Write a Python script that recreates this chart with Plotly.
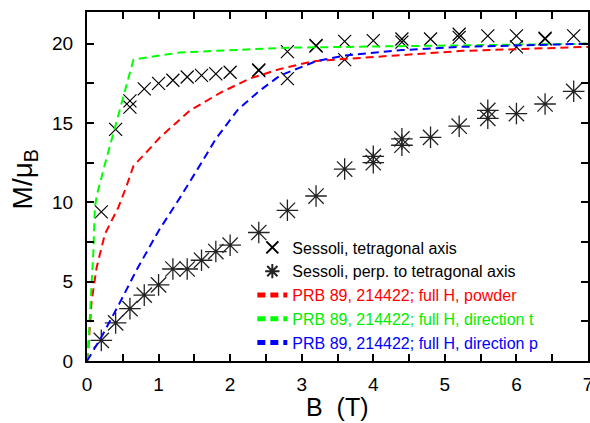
import plotly.graph_objects as go

# Sessoli, tetragonal axis
tet_B = [0.2, 0.4, 0.6, 0.6, 0.8, 1.0, 1.2, 1.4, 1.6, 1.8, 2.0, 2.4, 2.4, 2.8, 2.8,
         3.2, 3.2, 3.6, 3.6, 4.0, 4.4, 4.4, 4.8, 5.2, 5.2, 5.6, 6.0, 6.0, 6.4, 6.4, 6.8]
tet_M = [9.4, 14.6, 16.0, 16.4, 17.15, 17.5, 17.7, 17.9, 18.0, 18.1, 18.2, 18.3, 18.35, 17.8, 19.5,
         19.85, 19.9, 19.0, 20.15, 20.2, 20.1, 20.3, 20.3, 20.4, 20.6, 20.5, 19.8, 20.5, 20.3, 20.35, 20.5]

# Sessoli, perpendicular to tetragonal axis
perp_B = [0.2, 0.4, 0.6, 0.8, 1.0, 1.2, 1.4, 1.6, 1.8, 2.0, 2.4, 2.8, 3.2, 3.6,
          4.0, 4.0, 4.4, 4.4, 4.8, 5.2, 5.6, 5.6, 6.0, 6.4, 6.8]
perp_M = [1.3, 2.4, 3.3, 4.15, 4.8, 5.8, 5.8, 6.35, 6.9, 7.3, 8.1, 9.5, 10.4, 12.1,
          12.5, 12.9, 13.6, 14.0, 14.1, 14.8, 15.3, 15.8, 15.6, 16.2, 17.0]

# PRB 89, 214422; full H, powder
pow_B = [0, 0.02, 0.065, 0.135, 0.25, 0.44, 0.55, 0.65, 0.9, 1.02, 1.44, 1.86, 2.27, 2.69, 3.16, 3.48, 5.25, 7.0]
pow_M = [0, 0.9, 3.8, 5.9, 8.0, 9.7, 11.0, 12.3, 13.5, 14.1, 15.8, 16.9, 17.8, 18.4, 18.9, 19.0, 19.55, 19.8]

# PRB 89, 214422; full H, direction t
t_B = [0, 0.02, 0.04, 0.09, 0.11, 0.14, 0.25, 0.41, 0.53, 0.65, 1.3, 2.0, 2.8, 3.6, 5.0, 7.0]
t_M = [0, 1.0, 2.8, 7.0, 9.7, 10.5, 12.4, 15.0, 17.0, 19.0, 19.45, 19.6, 19.75, 19.8, 19.9, 20.0]

# PRB 89, 214422; full H, direction p
p_B = [0, 0.2, 0.45, 0.7, 1.0, 1.3, 1.6, 1.8, 2.1, 2.4, 2.7, 3.2, 3.6, 4.4, 5.2, 7.0]
p_M = [0, 1.5, 3.6, 5.8, 8.2, 10.3, 12.5, 14.0, 15.8, 17.0, 18.0, 18.9, 19.25, 19.6, 19.8, 20.0]

X_TITLE = "B  (T)"
Y_TITLE = "M/μ<sub>B</sub>"

FONT = "Liberation Sans"
fig = go.Figure()

fig.add_trace(go.Scatter(x=tet_B, y=tet_M, mode="markers", name="Sessoli, tetragonal axis",
                         marker=dict(symbol="x-thin-open", size=13, color="black",
                                     line=dict(color="black", width=1.2))))
fig.add_trace(go.Scatter(x=perp_B, y=perp_M, mode="markers", name="Sessoli, perp. to tetragonal axis",
                         marker=dict(symbol="asterisk-open", size=18, color="#222",
                                     line=dict(color="#222", width=1.3))))
fig.add_trace(go.Scatter(x=pow_B, y=pow_M, mode="lines",
                         name='<span style="color:#ff0000">PRB 89, 214422; full H, powder</span>',
                         line=dict(color="#ff0000", width=2, dash="8px,5px")))
fig.add_trace(go.Scatter(x=t_B, y=t_M, mode="lines",
                         name='<span style="color:#00ee00">PRB 89, 214422; full H, direction t</span>',
                         line=dict(color="#00ff00", width=2, dash="8px,5px")))
fig.add_trace(go.Scatter(x=p_B, y=p_M, mode="lines",
                         name='<span style="color:#0000ff">PRB 89, 214422; full H, direction p</span>',
                         line=dict(color="#0000ff", width=2, dash="8px,5px")))

axis_common = dict(showline=True, linecolor="black", linewidth=2, mirror="ticks",
                   ticks="inside", ticklen=7, tickwidth=2, tickcolor="black",
                   showgrid=False, zeroline=False, automargin=False,
                   ticklabeloverflow="allow",
                   tickfont=dict(family=FONT, size=19, color="black"))

fig.update_xaxes(range=[0, 7], dtick=1, tick0=0, ticklabelstandoff=5,
                 minor=dict(dtick=0.5, ticks="inside", ticklen=7, tickwidth=2, tickcolor="black"),
                 **axis_common)
fig.update_yaxes(range=[0, 22], dtick=5, tick0=0, ticklabelstandoff=8,
                 minor=dict(dtick=2.5, ticks="inside", ticklen=7, tickwidth=2, tickcolor="black"),
                 **axis_common)

fig.add_annotation(text=X_TITLE, xref="paper", yref="paper", x=0.5, y=-0.133,
                   xanchor="center", yanchor="middle", showarrow=False,
                   font=dict(family=FONT, size=25, color="black"))
fig.add_annotation(text=Y_TITLE, xref="paper", yref="paper", x=-0.124, y=0.52,
                   xanchor="center", yanchor="middle", showarrow=False, textangle=-90,
                   font=dict(family=FONT, size=28, color="black"))

fig.update_layout(
    width=590, height=423,
    margin=dict(l=87, r=2, t=12, b=62),
    plot_bgcolor="white", paper_bgcolor="white",
    showlegend=True,
    legend=dict(x=0.33, y=0.374, xanchor="left", yanchor="top",
                bgcolor="rgba(0,0,0,0)", borderwidth=0,
                font=dict(family=FONT, size=16, color="black"),
                itemsizing="constant", tracegroupgap=0),
)

fig.write_html("out.html", config={"displayModeBar": False},
               post_script="document.body.style.margin='0';")
